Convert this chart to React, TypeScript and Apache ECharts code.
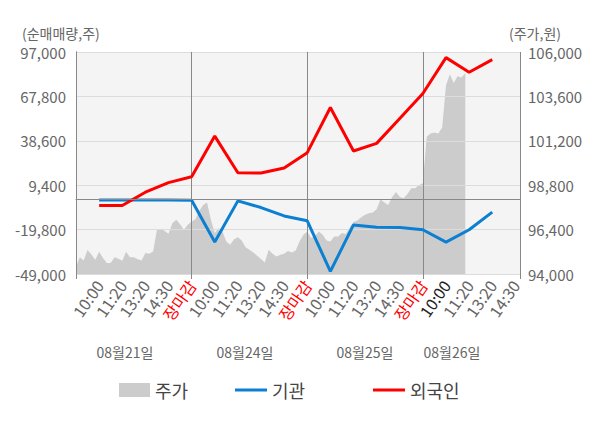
import React, { useEffect, useRef } from "react";
import * as echarts from "echarts";

// ---- data ----
const timeLabels = [
  "10:00", "11:20", "13:20", "14:30", "장마감",
  "10:00", "11:20", "13:20", "14:30", "장마감",
  "10:00", "11:20", "13:20", "14:30", "장마감",
  "10:00", "11:20", "13:20", "14:30",
];
const closeLabel = "장마감";
const currentLabelIndex = 16; // highlighted (dark) label position
const dateLabels = ["08월21일", "08월24일", "08월25일", "08월26일"];

// 외국인 / 기관 net volume at label positions 1..18
const foreignNet = [
  -4000, -4000, 4800, 11100, 15000,
  41700, 17600, 17400, 20700, 30800,
  60500, 31900, 36900, 53300, 69700,
  93300, 83700, 92000,
];
const institutionNet = [
  -400, -400, -400, -400, -500,
  -28000, -900, -5300, -10800, -14000,
  -47300, -16700, -18200, -18400, -19900,
  -28000, -19900, -8300,
];

// 주가 (price) samples per day
const priceDay1 = [
  94410, 94900, 94730, 95300, 95050, 94770, 95200, 94870, 94590, 94590,
  94900, 94830, 94720, 95200, 94900, 94900, 94800, 94730, 95130, 95090,
  95220, 96390, 96440, 96330, 96170, 96750, 96930, 96690, 96390, 96660,
];
const priceDay2 = [
  96835, 96960, 97420, 97735, 97860, 96930, 96210, 96480, 96300, 95760,
  95580, 95880, 95990, 95810, 95450, 95310, 95160, 94990, 94810, 94625,
  95310, 95090, 94950, 95040, 95090, 95250, 95160, 95270, 95760, 96120,
];
const priceDay3 = [
  96300, 95940, 96060, 96300, 96120, 95810, 95760, 96030, 96030, 96210,
  96160, 96520, 96810, 96890, 97070, 97200, 97290, 97320, 97500, 98040,
  97860, 97730, 98150, 98430, 98180, 98100, 98320, 98640, 98640, 98810,
];
const priceDay4 = [
  98900, 101420, 101600, 101650, 101600, 101920, 104200, 104800, 104330, 104690,
  104620, 104850,
];
const priceDays = [priceDay1, priceDay2, priceDay3, priceDay4];

const leftAxis = { min: -49000, max: 97000, interval: 29200 };
const rightAxis = { min: 94000, max: 106000, interval: 2400 };
const slotsPerDay = 5;
const samplesPerDay = 30;
const xMax = 19.2;

const FONT = "'Noto Sans CJK KR', 'Noto Sans', sans-serif";

export default function App() {
  const ref = useRef<HTMLDivElement>(null);

  useEffect(() => {
    document.body.style.margin = "0";
    if (!ref.current) return;
    const chart = echarts.init(ref.current, null, { renderer: "svg" });

    const priceData: number[][] = [];
    priceDays.forEach((arr, d) => {
      arr.forEach((v, k) => {
        priceData.push([d * slotsPerDay + (k * slotsPerDay) / samplesPerDay, v]);
      });
    });
    const foreignData = foreignNet.map((v, i) => [i + 1, v]);
    const instData = institutionNet.map((v, i) => [i + 1, v]);

    const fmt = (v: number) => v.toLocaleString("en-US");
    const legendText = { fontSize: 18, color: "#444", fontFamily: FONT };

    chart.setOption({
      animation: false,
      textStyle: { fontFamily: FONT },
      grid: {
        left: 76,
        right: 80,
        top: 52,
        height: 222,
        show: true,
        backgroundColor: "#f4f4f4",
        borderWidth: 0,
      },
      legend: [
        {
          left: 114, top: 376, selectedMode: false, itemWidth: 31, itemHeight: 14,
          data: [{ name: "주가", icon: "rect" }],
          textStyle: legendText,
        },
        {
          left: 230, top: 376, selectedMode: false, itemWidth: 32, itemHeight: 3,
          data: [{ name: "기관", icon: "rect" }],
          textStyle: legendText,
        },
        {
          left: 368, top: 376, selectedMode: false, itemWidth: 32, itemHeight: 3,
          data: [{ name: "외국인", icon: "rect" }],
          textStyle: legendText,
        },
      ],
      xAxis: [
        {
          type: "value",
          min: 0,
          max: xMax,
          interval: 1,
          z: 2,
          axisLine: { show: true, lineStyle: { color: "#888", width: 1 } },
          axisTick: { show: false },
          splitLine: { show: false },
          axisLabel: {
            rotate: 55,
            margin: 8,
            fontSize: 16,
            color: "#666",
            fontFamily: FONT,
            formatter: (value: number) => {
              const i = Math.round(value);
              if (Math.abs(value - i) > 1e-6 || i < 1 || i > timeLabels.length) return "";
              const t = timeLabels[i - 1];
              if (t === closeLabel) return "{close|" + t + "}";
              if (i === currentLabelIndex) return "{now|" + t + "}";
              return t;
            },
            rich: {
              close: { color: "#ff0000", fontSize: 16, fontFamily: FONT },
              now: { color: "#222", fontSize: 16, fontFamily: FONT },
            },
          },
        },
        {
          type: "value",
          min: 0,
          max: xMax,
          interval: slotsPerDay,
          position: "bottom",
          z: 2,
          axisLine: { show: false },
          axisTick: { show: true, length: 5, lineStyle: { color: "#888" } },
          axisLabel: { show: false },
          splitLine: { show: true, lineStyle: { color: "#888", width: 1 } },
        },
      ],
      yAxis: [
        {
          type: "value",
          position: "left",
          min: leftAxis.min,
          max: leftAxis.max,
          interval: leftAxis.interval,
          z: 2,
          axisLine: { show: true, lineStyle: { color: "#888" } },
          axisTick: { show: false },
          axisLabel: { fontSize: 15, color: "#666", margin: 10, fontFamily: FONT, formatter: fmt },
          splitLine: { show: true, lineStyle: { color: "#dcdcdc", width: 1 } },
        },
        {
          type: "value",
          position: "right",
          min: rightAxis.min,
          max: rightAxis.max,
          interval: rightAxis.interval,
          z: 2,
          axisLine: { show: true, lineStyle: { color: "#888" } },
          axisTick: { show: false },
          axisLabel: { fontSize: 15, color: "#666", margin: 8, fontFamily: FONT, formatter: fmt },
          splitLine: { show: false },
        },
      ],
      series: [
        {
          name: "주가",
          type: "line",
          xAxisIndex: 0,
          yAxisIndex: 1,
          z: 1,
          symbol: "none",
          data: priceData,
          color: "#cccccc",
          itemStyle: { color: "#cccccc" },
          lineStyle: { width: 0, opacity: 0 },
          areaStyle: { color: "#cccccc", opacity: 1, origin: "start" },
        },
        {
          name: "기관",
          type: "line",
          xAxisIndex: 0,
          yAxisIndex: 0,
          z: 3,
          symbol: "none",
          data: instData,
          color: "#0b7fd1",
          itemStyle: { color: "#0b7fd1" },
          lineStyle: { width: 3, color: "#0b7fd1" },
          markLine: {
            silent: true,
            symbol: "none",
            label: { show: false },
            lineStyle: { color: "#888", type: "solid", width: 1 },
            data: [{ yAxis: 0 }],
          },
        },
        {
          name: "외국인",
          type: "line",
          xAxisIndex: 0,
          yAxisIndex: 0,
          z: 4,
          symbol: "none",
          data: foreignData,
          color: "#ff0000",
          itemStyle: { color: "#ff0000" },
          lineStyle: { width: 3, color: "#ff0000" },
        },
      ],
      graphic: [
        {
          type: "text", left: 22, top: 26,
          style: { text: "(순매매량,주)", fontSize: 14, fill: "#666", fontFamily: FONT },
        },
        {
          type: "text", left: 509, top: 26,
          style: { text: "(주가,원)", fontSize: 14, fill: "#666", fontFamily: FONT },
        },
        ...dateLabels.map((t, i) => ({
          type: "text",
          x: [125, 245, 365, 452][i],
          y: 352,
          style: {
            text: t, fontSize: 14, fill: "#666", fontFamily: FONT,
            textAlign: "center", textVerticalAlign: "middle",
          },
        })),
      ],
    });

    return () => chart.dispose();
  }, []);

  return <div ref={ref} style={{ width: 600, height: 428 }} />;
}
